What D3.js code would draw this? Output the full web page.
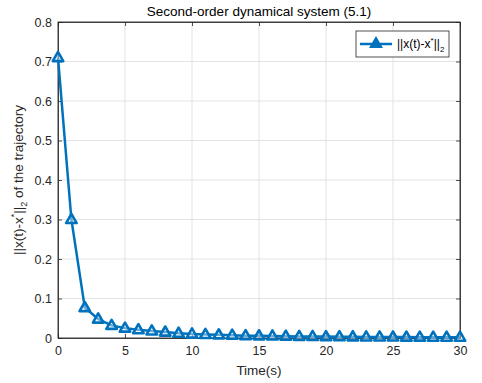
<!DOCTYPE html>
<html>
<head>
<meta charset="utf-8">
<script src="https://cdn.jsdelivr.net/npm/d3@7"></script>
<style>
  body { margin: 0; background: #fff; }
  text { font-family: "Liberation Sans", Arial, sans-serif; }
</style>
</head>
<body>
<div id="chart"></div>
<script>
// data
var times = [0,1,2,3,4,5,6,7,8,9,10,11,12,13,14,15,16,17,18,19,20,21,22,23,24,25,26,27,28,29,30];
var errNorm = [0.71,0.30,0.077,0.048,0.032,0.025,0.021,0.018,0.015,0.012,0.010,0.009,0.008,0.007,0.006,0.0055,
               0.005,0.0045,0.004,0.0038,0.0035,0.0033,0.003,0.0028,0.0026,0.0025,0.0023,0.0022,0.0021,0.002,0.0019];
var xTicks = [0,5,10,15,20,25,30];
var yTicks = [0,0.1,0.2,0.3,0.4,0.5,0.6,0.7,0.8];

var width = 482, height = 383;
var margin = {top: 22, right: 22, bottom: 45, left: 58};
var blue = "#0072BD", ink = "#262626";

var svg = d3.select("#chart").append("svg")
    .attr("width", width).attr("height", height);

var x = d3.scaleLinear().domain([0,30]).range([margin.left, width - margin.right]);
var y = d3.scaleLinear().domain([0,0.8]).range([height - margin.bottom, margin.top]);

// grid
svg.append("g").selectAll("line").data(xTicks).join("line")
    .attr("x1", d => x(d)).attr("x2", d => x(d))
    .attr("y1", y(0)).attr("y2", y(0.8))
    .attr("stroke", "#e3e3e3").attr("stroke-width", 1);
svg.append("g").selectAll("line").data(yTicks).join("line")
    .attr("x1", x(0)).attr("x2", x(30))
    .attr("y1", d => y(d)).attr("y2", d => y(d))
    .attr("stroke", "#e3e3e3").attr("stroke-width", 1);

// box
svg.append("rect")
    .attr("x", x(0)).attr("y", y(0.8))
    .attr("width", x(30) - x(0)).attr("height", y(0) - y(0.8))
    .attr("fill", "none").attr("stroke", ink).attr("stroke-width", 0.8);

// axes
svg.append("g")
    .attr("transform", "translate(0," + y(0) + ")")
    .call(d3.axisBottom(x).tickValues(xTicks).tickSize(-4).tickPadding(8).tickFormat(d3.format("d")));
svg.append("g")
    .attr("transform", "translate(" + x(0) + ",0)")
    .call(d3.axisLeft(y).tickValues(yTicks).tickSize(-4).tickPadding(6).tickFormat(d => d === 0 ? "0" : d3.format(".1f")(d)));
// ticks on top/right too
svg.append("g")
    .attr("transform", "translate(0," + y(0.8) + ")")
    .call(d3.axisTop(x).tickValues(xTicks).tickSize(-4).tickFormat(""));
svg.append("g")
    .attr("transform", "translate(" + x(30) + ",0)")
    .call(d3.axisRight(y).tickValues(yTicks).tickSize(-4).tickFormat(""));

svg.selectAll(".domain").attr("stroke", ink).attr("stroke-width", 0.8);
svg.selectAll(".tick line").attr("stroke", ink).attr("stroke-width", 0.8);
svg.selectAll(".tick text").attr("fill", ink).style("font-size", "12.5px")
    .style("font-family", "'Liberation Sans', Arial, sans-serif");

// line
var line = d3.line().x((d, i) => x(times[i])).y(d => y(d));
svg.append("path").datum(errNorm)
    .attr("d", line)
    .attr("fill", "none").attr("stroke", blue).attr("stroke-width", 2.5)
    .attr("stroke-linejoin", "round");

var tri = d3.symbol().type(d3.symbolTriangle).size(48);
svg.append("g").selectAll("path").data(errNorm).join("path")
    .attr("d", tri)
    .attr("transform", (d, i) => "translate(" + x(times[i]) + "," + (y(d) + 0.5) + ")")
    .attr("fill", "#fff").attr("fill-opacity", 0.4)
    .attr("stroke", blue).attr("stroke-width", 2.6)
    .attr("stroke-linejoin", "round");

// title
svg.append("text")
    .attr("x", (x(0) + x(30)) / 2).attr("y", 16)
    .attr("text-anchor", "middle").attr("fill", "#000")
    .style("font-size", "13.5px")
    .text("Second-order dynamical system (5.1)");

// x label
svg.append("text")
    .attr("x", (x(0) + x(30)) / 2).attr("y", 375)
    .attr("text-anchor", "middle").attr("fill", ink)
    .style("font-size", "13.5px")
    .text("Time(s)");

// y label
var yl = svg.append("text")
    .attr("transform", "translate(23," + ((y(0) + y(0.8)) / 2) + ") rotate(-90)")
    .attr("text-anchor", "middle").attr("fill", ink)
    .style("font-size", "13.5px");
yl.append("tspan").text("||x(t)-x");
yl.append("tspan").attr("dy", -6).style("font-size", "9px").text("*");
yl.append("tspan").attr("dy", 6).text("||");
yl.append("tspan").attr("dy", 4).style("font-size", "9px").text("2");
yl.append("tspan").attr("dy", -4).text(" of the trajectory");

// legend
var lg = svg.append("g").attr("transform", "translate(356,31)");
lg.append("rect").attr("width", 93).attr("height", 26)
    .attr("fill", "#fff").attr("stroke", ink).attr("stroke-width", 0.8);
lg.append("line").attr("x1", 4).attr("x2", 36).attr("y1", 13).attr("y2", 13)
    .attr("stroke", blue).attr("stroke-width", 2.5);
lg.append("path").attr("d", tri).attr("transform", "translate(20,13)")
    .attr("fill", blue).attr("stroke", blue).attr("stroke-width", 2);
var lt = lg.append("text").attr("x", 41).attr("y", 17).attr("fill", "#000")
    .style("font-size", "12px");
lt.append("tspan").text("||x(t)-x");
lt.append("tspan").attr("dy", -5).style("font-size", "8px").text("*");
lt.append("tspan").attr("dy", 5).text("||");
lt.append("tspan").attr("dy", 4).style("font-size", "8px").text("2");
</script>
</body>
</html>
